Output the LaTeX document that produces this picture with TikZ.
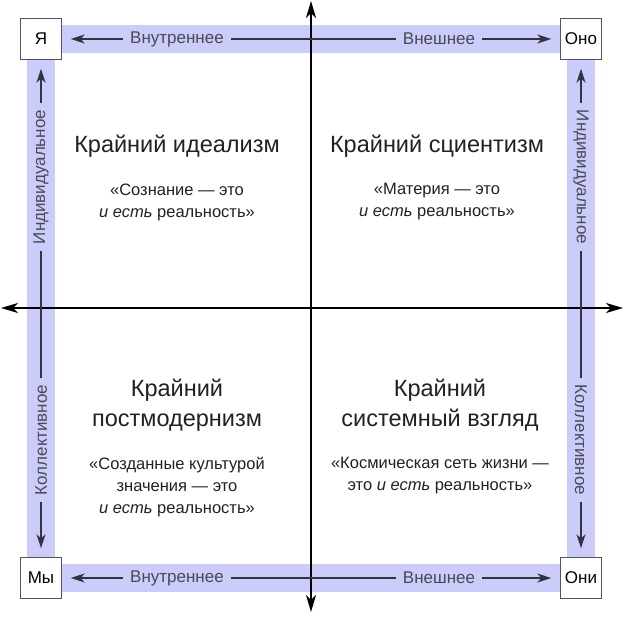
\documentclass[tikz,border=0pt]{standalone}
\usepackage{fontspec}
\setmainfont{Liberation Sans}
\usetikzlibrary{positioning,arrows.meta}
\definecolor{bandblue}{RGB}{204,204,250}
\definecolor{linegray}{RGB}{50,53,65}
\definecolor{labelgray}{RGB}{72,74,88}
\tikzset{
	corner/.style={draw=linegray!85,fill=white,minimum size=41pt,inner sep=0pt,font=\fontsize{17}{20}\selectfont},
	band/.style={bandblue,line width=28pt},
	hlabel/.style={text=labelgray,inner xsep=7pt,inner ysep=2pt,font=\fontsize{17}{20}\selectfont},
	vlabel/.style={hlabel},
	bandarrow/.style={linegray,line width=1.4pt,-{Stealth[length=14pt,width=9pt,inset=4pt]},shorten >=9pt},
	bandline/.style={linegray,line width=1.4pt},
	axis/.style={black,line width=1.5pt,{Stealth[length=17pt,width=10pt,inset=5pt]}-{Stealth[length=17pt,width=10pt,inset=5pt]}},
	quadtitle/.style={align=center,text=black!87,font=\fontsize{23.5}{30}\selectfont},
	quadquote/.style={align=center,text=black!87,font=\fontsize{16.5}{22}\selectfont},
}
\begin{document}
\begin{tikzpicture}[x=1pt,y=-1pt]
	\useasboundingbox (0,0) rectangle (626,623);
	\coordinate (ya0) at (41,39);
	\coordinate (ono0) at (581,39);
	\coordinate (oni0) at (581,578);
	\coordinate (my0) at (41,578);
	\draw[band,line join=miter] (ya0) -- (ono0) -- (oni0) -- (my0) -- cycle;
	\coordinate (axT) at (311,1);
	\coordinate (axB) at (311,612);
	\coordinate (axL) at (1,308);
	\coordinate (axR) at (623,308);
	\draw[axis] (axT) -- (axB);
	\draw[axis] (axL) -- (axR);
	\node[corner] (ya) at (ya0) {Я};
	\node[corner] (ono) at (ono0) {Оно};
	\node[corner] (oni) at (oni0) {Они};
	\node[corner] (my) at (my0) {Мы};
	\node[hlabel] (inTop) at (177,39) {Внутреннее};
	\node[hlabel] (exTop) at (439,39) {Внешнее};
	\node[hlabel] (inBot) at (177,578) {Внутреннее};
	\node[hlabel] (exBot) at (439,578) {Внешнее};
	\node[vlabel,rotate=90] (indL) at (41,177) {Индивидуальное};
	\node[vlabel,rotate=90] (colL) at (41,440) {Коллективное};
	\node[vlabel,rotate=-90] (indR) at (581,177) {Индивидуальное};
	\node[vlabel,rotate=-90] (colR) at (581,440) {Коллективное};
	\draw[bandarrow] (inTop.west) -- (ya.east);
	\draw[bandline] (inTop.east) -- (exTop.west);
	\draw[bandarrow] (exTop.east) -- (ono.west);
	\draw[bandarrow] (inBot.west) -- (my.east);
	\draw[bandline] (inBot.east) -- (exBot.west);
	\draw[bandarrow] (exBot.east) -- (oni.west);
	\draw[bandarrow] (indL.east) -- (ya.south);
	\draw[bandline] (indL.west) -- (colL.east);
	\draw[bandarrow] (colL.west) -- (my.north);
	\draw[bandarrow] (indR.west) -- (ono.south);
	\draw[bandline] (indR.east) -- (colR.west);
	\draw[bandarrow] (colR.east) -- (oni.north);
	\node[quadtitle] (idealism) at (177,146) {Крайний идеализм};
	\node[quadquote] (idealismQ) at (177,202) {«Сознание — это\\\textit{и есть} реальность»};
	\node[quadtitle] (scientism) at (437,146) {Крайний сциентизм};
	\node[quadquote] (scientismQ) at (437,202) {«Материя — это\\\textit{и есть} реальность»};
	\node[quadtitle] (postmod) at (177,405) {Крайний\\постмодернизм};
	\node[quadquote] (postmodQ) at (177,487) {«Созданные культурой\\значения — это\\\textit{и есть} реальность»};
	\node[quadtitle] (systems) at (440,405) {Крайний\\системный взгляд};
	\node[quadquote] (systemsQ) at (440,476) {«Космическая сеть жизни —\\это \textit{и есть} реальность»};
\end{tikzpicture}
\end{document}
